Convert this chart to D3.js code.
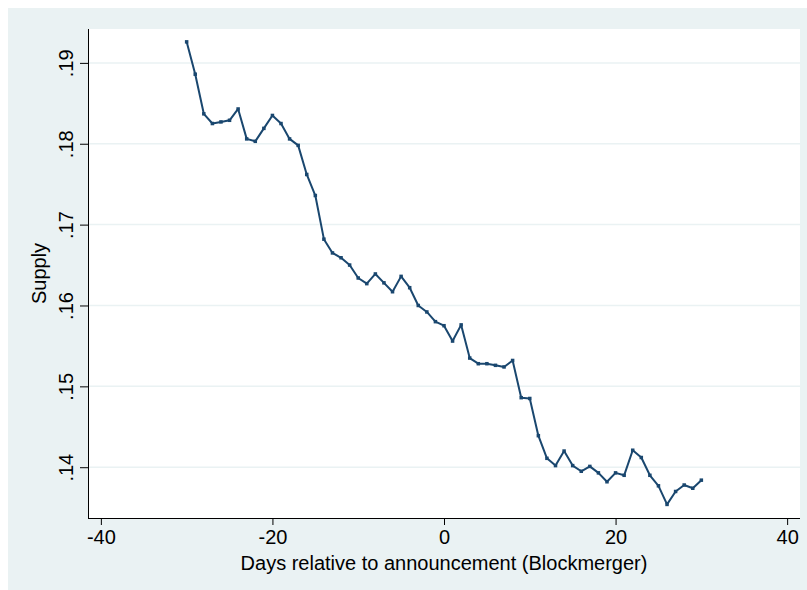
<!DOCTYPE html>
<html>
<head>
<meta charset="utf-8">
<script src="https://cdn.jsdelivr.net/npm/d3@7"></script>
<style>
  body { margin: 0; background: #ffffff; }
  svg text { font-family: Arial, "Liberation Sans", sans-serif; fill: #000000; }
</style>
</head>
<body>
<svg id="chart" width="807" height="590"></svg>
<script>
"use strict";

// days relative to announcement
let days = d3.range(-30, 31);

// supply, one value per day
let supply = [
  0.1926, 0.1886, 0.1837, 0.1825, 0.1827, 0.1829, 0.1843, 0.1806, 0.1803, 0.1819,
  0.1835, 0.1825, 0.1806, 0.1798, 0.1762, 0.1736, 0.1682, 0.1665, 0.1659, 0.1650,
  0.1634, 0.1627, 0.1639, 0.1628, 0.1617, 0.1636, 0.1622, 0.1600, 0.1592, 0.1580,
  0.1575, 0.1556, 0.1576, 0.1535, 0.1528, 0.1528, 0.1526, 0.1524, 0.1532, 0.1486,
  0.1485, 0.1439, 0.1411, 0.1402, 0.1420, 0.1402, 0.1395, 0.1401, 0.1393, 0.1382,
  0.1393, 0.1390, 0.1421, 0.1412, 0.1390, 0.1377, 0.1354, 0.1370, 0.1378, 0.1374,
  0.1384
];

let xTicks = [-40, -20, 0, 20, 40];
let yTicks = [0.14, 0.15, 0.16, 0.17, 0.18, 0.19];
let xTitle = "Days relative to announcement (Blockmerger)";
let yTitle = "Supply";

let svg = d3.select("#chart");

let plot = { left: 88, right: 800, top: 29, bottom: 518 };
let lineColor = "#1a476f";
let bgColor = "#eaf2f3";

// outer graph region
svg.append("rect")
  .attr("x", 8).attr("y", 8)
  .attr("width", 799).attr("height", 582)
  .style("fill", bgColor);

// plot region
svg.append("rect")
  .attr("x", plot.left).attr("y", plot.top)
  .attr("width", plot.right - plot.left).attr("height", plot.bottom - plot.top)
  .style("fill", "#ffffff");

let xScale = d3.scaleLinear().domain([-41.5, 41.5]).range([plot.left, plot.right]);
let yScale = d3.scaleLinear().domain([0.13372, 0.19419]).range([plot.bottom, plot.top]);

// horizontal grid lines
svg.append("g").selectAll("line").data(yTicks)
  .enter().append("line")
  .attr("x1", plot.left).attr("x2", plot.right)
  .attr("y1", d => yScale(d)).attr("y2", d => yScale(d))
  .style("stroke", bgColor).style("stroke-width", 1.5);

// y axis, labels turned like stata does
let yAxis = d3.axisLeft(yScale).tickValues(yTicks).tickSize(8).tickPadding(7)
  .tickFormat(d => d3.format(".2f")(d).replace(/^0/, ""));

let yAxisG = svg.append("g")
  .attr("transform", `translate(${plot.left},0)`)
  .call(yAxis);
yAxisG.select(".domain").attr("d", `M0.5,${plot.top}V${plot.bottom}`).style("stroke", "#000");
yAxisG.selectAll(".tick line").style("stroke", "#000");
yAxisG.selectAll(".tick text")
  .attr("x", null).attr("dy", null)
  .attr("transform", "translate(-15,0) rotate(-90)")
  .attr("text-anchor", "middle")
  .style("font-size", "20px");

// x axis, plain hyphen for negatives
let xAxis = d3.axisBottom(xScale).tickValues(xTicks).tickSize(7).tickPadding(5)
  .tickFormat(d => String(d));

let xAxisG = svg.append("g")
  .attr("transform", `translate(0,${plot.bottom})`)
  .call(xAxis);
xAxisG.select(".domain").attr("d", `M${plot.left},0.5H${plot.right}`).style("stroke", "#000");
xAxisG.selectAll(".tick line").style("stroke", "#000");
xAxisG.selectAll(".tick text").style("font-size", "20px");

// axis titles
svg.append("text")
  .attr("x", (plot.left + plot.right) / 2).attr("y", 570)
  .attr("text-anchor", "middle").style("font-size", "20px")
  .text(xTitle);

svg.append("text")
  .attr("transform", `translate(46,${(plot.top + plot.bottom) / 2}) rotate(-90)`)
  .attr("text-anchor", "middle").style("font-size", "20px")
  .text(yTitle);

// the series
let points = days.map((d, i) => ({ day: d, value: supply[i] }));

let line = d3.line().x(d => xScale(d.day)).y(d => yScale(d.value));

svg.append("path").datum(points)
  .attr("d", line)
  .style("fill", "none").style("stroke", lineColor)
  .style("stroke-width", 2).style("stroke-linejoin", "round");

svg.append("g").selectAll("rect").data(points)
  .enter().append("rect")
  .attr("x", d => xScale(d.day) - 1.75).attr("y", d => yScale(d.value) - 1.75)
  .attr("width", 3.5).attr("height", 3.5)
  .style("fill", lineColor);
</script>
</body>
</html>
